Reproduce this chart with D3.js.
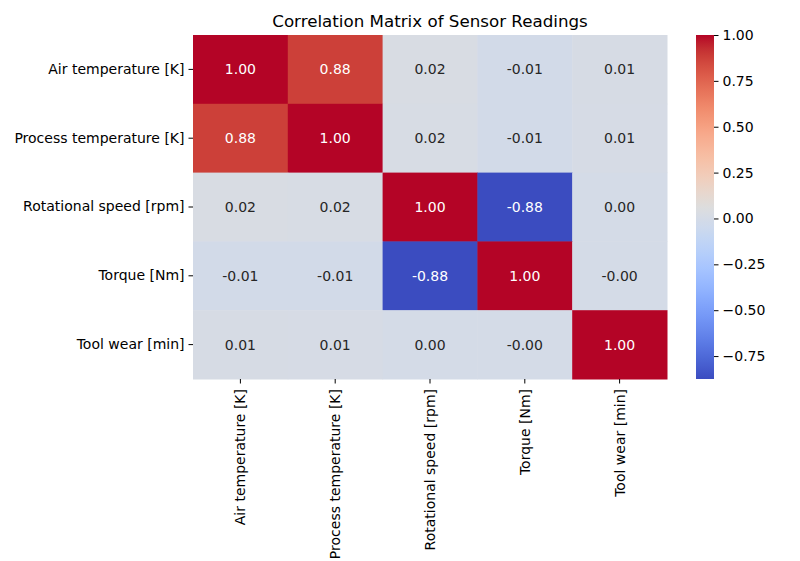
<!DOCTYPE html>
<html><head><meta charset="utf-8">
<script src="https://cdn.jsdelivr.net/npm/d3@7"></script>
<style>body{margin:0;background:#fff}svg{display:block;font-family:"DejaVu Sans",sans-serif}</style>
</head><body><svg id="c" width="800" height="561"></svg>
<script>
const labels = ["Air temperature [K]","Process temperature [K]","Rotational speed [rpm]","Torque [Nm]","Tool wear [min]"];
const rowAir = [1.00, 0.876, 0.023, -0.014, 0.014];
const rowProcess = [0.876, 1.00, 0.019, -0.014, 0.013];
const rowSpeed = [0.023, 0.019, 1.00, -0.875, 0.0002];
const rowTorque = [-0.014, -0.014, -0.875, 1.00, -0.003];
const rowWear = [0.014, 0.013, 0.0002, -0.003, 1.00];
const matrix = [rowAir, rowProcess, rowSpeed, rowTorque, rowWear];
const cbTicks = [1.00, 0.75, 0.50, 0.25, 0.00, -0.25, -0.50, -0.75];
const title = "Correlation Matrix of Sensor Readings";

// matplotlib coolwarm control colours
const coolwarm = ["#3b4cc0","#445acc","#4d68d7","#5775e1","#6282ea","#6c8ef1","#779af7","#82a5fb","#8db0fe","#98b9ff","#a3c2ff","#aec9fd","#b8d0f9","#c2d5f4","#ccd9ee","#d5dbe6","#dddddd","#e5d8d1","#ecd3c5","#f1ccb8","#f5c4ac","#f7bba0","#f7b194","#f7a689","#f49a7b","#f18d6f","#ec7f63","#e57058","#de604d","#d55042","#cb3e38","#c0282f","#b40426"];
const interp = d3.piecewise(d3.interpolateRgb, coolwarm);

const all = matrix.flat();
const vmin = d3.min(all), vmax = d3.max(all);
const color = d3.scaleSequential(interp).domain([vmin, vmax]);

const FS = 14;
const svg = d3.select("#c");
const L = 193, T = 35, R = 667, B = 379;
const x = d3.scaleBand().domain(labels).range([L, R]);
const y = d3.scaleBand().domain(labels).range([T, B]);

const cells = [];
matrix.forEach((row, i) => row.forEach((v, j) => cells.push({r: labels[i], c: labels[j], v})));

svg.append("g").selectAll("rect").data(cells).join("rect")
  .attr("x", d => x(d.c)).attr("y", d => y(d.r))
  .attr("width", x.bandwidth() + 0.5).attr("height", y.bandwidth() + 0.5)
  .attr("fill", d => color(d.v));

function lum(c){
  const rgb = d3.rgb(c);
  const f = v => { v /= 255; return v <= 0.03928 ? v/12.92 : Math.pow((v+0.055)/1.055, 2.4); };
  return 0.2126*f(rgb.r) + 0.7152*f(rgb.g) + 0.0722*f(rgb.b);
}
svg.append("g").selectAll("text").data(cells).join("text")
  .attr("x", d => x(d.c) + x.bandwidth()/2).attr("y", d => y(d.r) + y.bandwidth()/2)
  .attr("text-anchor", "middle").attr("dominant-baseline", "central")
  .attr("font-size", FS)
  .attr("fill", d => lum(color(d.v)) > 0.408 ? "#262626" : "#ffffff")
  .text(d => d.v.toFixed(2));

const yAxis = svg.append("g").attr("transform", `translate(${L},0)`)
  .call(d3.axisLeft(y).tickSize(4.5).tickPadding(4));
yAxis.select(".domain").remove();
yAxis.selectAll("text").attr("font-size", FS).attr("fill", "#000").attr("font-family", "DejaVu Sans");
yAxis.selectAll("line").attr("stroke", "#000").attr("stroke-width", 1);

const xAxis = svg.append("g").attr("transform", `translate(0,${B})`)
  .call(d3.axisBottom(x).tickSize(4.5).tickPadding(4));
xAxis.select(".domain").remove();
xAxis.selectAll("line").attr("stroke", "#000");
xAxis.selectAll("text").attr("font-size", FS).attr("fill", "#000").attr("font-family", "DejaVu Sans")
  .attr("transform", "rotate(-90)").attr("text-anchor", "end")
  .attr("x", -10).attr("y", 0).attr("dy", "0.35em");

svg.append("text").attr("x", (L + R)/2).attr("y", 27).attr("text-anchor", "middle")
  .attr("font-size", 16.7).attr("fill", "#000").text(title);

// colorbar
const cbL = 696, cbW = 18;
const cy = d3.scaleLinear().domain([vmin, vmax]).range([B, T]);
const defs = svg.append("defs");
const grad = defs.append("linearGradient").attr("id", "cb").attr("x1", 0).attr("y1", 1).attr("x2", 0).attr("y2", 0);
d3.range(0, 1.0001, 0.02).forEach(t => grad.append("stop").attr("offset", t).attr("stop-color", color(vmin + t*(vmax - vmin))));
svg.append("rect").attr("x", cbL).attr("y", T).attr("width", cbW).attr("height", B - T).attr("fill", "url(#cb)");
const cAxis = svg.append("g").attr("transform", `translate(${cbL + cbW},0)`)
  .call(d3.axisRight(cy).tickValues(cbTicks).tickSize(4.5).tickPadding(4).tickFormat(d => d.toFixed(2).replace("-", "\u2212")));
cAxis.select(".domain").remove();
cAxis.selectAll("line").attr("stroke", "#000");
cAxis.selectAll("text").attr("font-size", FS).attr("fill", "#000").attr("font-family", "DejaVu Sans");
</script></body></html>
